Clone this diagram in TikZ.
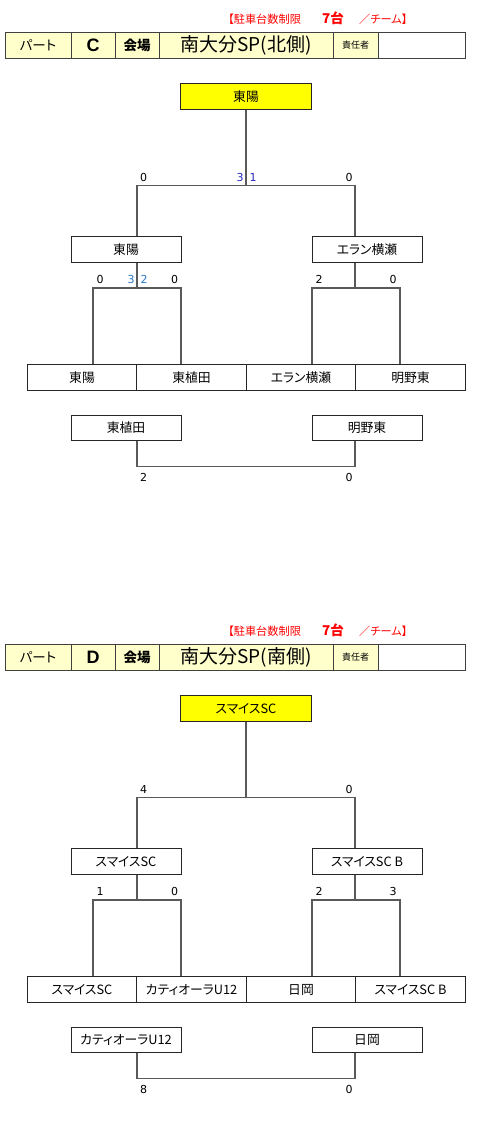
\documentclass[tikz,border=0pt]{standalone}
\usepackage{fontspec}
\setmainfont{Noto Sans CJK JP}
\newfontfamily\jp[RawFeature=+palt]{Noto Sans CJK JP}
\newfontfamily\scf{DejaVu Sans}
\newfontfamily\lat{Liberation Sans}
\definecolor{hdrfill}{HTML}{FFFFCC}
\definecolor{champfill}{HTML}{FFFF00}
\definecolor{blueA}{HTML}{2A2AC8}
\definecolor{blueB}{HTML}{2A7AC8}
\definecolor{redtxt}{HTML}{FF0000}
\tikzset{
  box/.style={draw=black!85, line width=0.9pt, minimum width=110pt, minimum height=25.5pt, inner sep=0pt, fill=white, font=\jp\fontsize{12.8}{14}\selectfont},
  champbox/.style={box, fill=champfill, minimum width=131pt},
  hdr/.style={draw=black!75, line width=1pt, fill=hdrfill, minimum height=25.5pt, inner sep=0pt},
  link/.style={draw=black!65, line width=1.2pt},
  score/.style={inner sep=0pt, font=\scf\fontsize{11}{13}\selectfont},
  redlbl/.style={inner sep=0pt, anchor=west, text=redtxt},
}
\begin{document}
\begin{tikzpicture}[x=1pt,y=-1pt]
\useasboundingbox[fill=white] (0,0) rectangle (477,1144);

% ================= Section C =================
\node[redlbl, font=\jp\fontsize{11.2}{12}\selectfont] (cr1) at (228,19) {【駐車台数制限};
\node[redlbl, font=\jp\bfseries\fontsize{13.5}{14}\selectfont] (cr2) at (322,18) {7台};
\node[redlbl, font=\jp\fontsize{11.2}{12}\selectfont] (cr3) at (359,19) {／チーム】};

\node[hdr, minimum width=66pt, font=\jp\fontsize{13.5}{14}\selectfont] (ch1) at (38,45.5) {パート};
\node[hdr, minimum width=44pt, font=\lat\bfseries\fontsize{18}{18}\selectfont] (ch2) at (93,45.5) {C};
\node[hdr, minimum width=44pt, font=\jp\bfseries\fontsize{13.5}{14}\selectfont] (ch3) at (137,45.5) {会場};
\node[hdr, minimum width=174pt, font=\jp\fontsize{19}{20}\selectfont] (ch4) at (246,45.5) {南大分SP(北側)};
\node[hdr, minimum width=45pt, font=\jp\fontsize{9}{10}\selectfont] (ch5) at (355.5,45.5) {責任者};
\node[hdr, minimum width=87pt, fill=white] (ch6) at (421.5,45.5) {};

\node[champbox] (cw) at (246,96.5) {東陽};
\node[box] (cs1) at (126,249.5) {東陽};
\node[box] (cs2) at (367,249.5) {エラン横瀬};
\node[box] (cq1) at (82,377.5) {東陽};
\node[box] (cq2) at (191.5,377.5) {東植田};
\node[box] (cq3) at (301,377.5) {エラン横瀬};
\node[box] (cq4) at (410.5,377.5) {明野東};
\node[box] (cp1) at (126,428) {東植田};
\node[box] (cp2) at (367,428) {明野東};

\coordinate (ctA) at (137,185.5);
\coordinate (ctM) at (246,185.5);
\coordinate (ctB) at (355,185.5);
\coordinate (clA) at (93,288);
\coordinate (clM) at (137,288);
\coordinate (clB) at (181,288);
\coordinate (crA) at (312,288);
\coordinate (crM) at (355,288);
\coordinate (crB) at (400,288);
\coordinate (cpA) at (137,466.5);
\coordinate (cpB) at (355,466.5);

\draw[link] (cw.south -| ctM) -- (ctM);
\draw[link] (cs1.north -| ctA) -- (ctA) -- (ctB) -- (cs2.north -| ctB);
\draw[link] (cs1.south -| clM) -- (clM);
\draw[link] (cq1.north -| clA) -- (clA) -- (clB) -- (cq2.north -| clB);
\draw[link] (cs2.south -| crM) -- (crM);
\draw[link] (cq3.north -| crA) -- (crA) -- (crB) -- (cq4.north -| crB);
\draw[link] (cp1.south -| cpA) -- (cpA) -- (cpB) -- (cp2.south -| cpB);

\node[score] (cn1) at (143.5,177.5) {0};
\node[score, text=blueA] (cn2) at (240,177.5) {3};
\node[score, text=blueA] (cn3) at (253,177.5) {1};
\node[score] (cn4) at (349,177.5) {0};
\node[score] (cn5) at (100,279.5) {0};
\node[score, text=blueB] (cn6) at (131,279.5) {3};
\node[score, text=blueB] (cn7) at (144,279.5) {2};
\node[score] (cn8) at (174.5,279.5) {0};
\node[score] (cn9) at (319,279.5) {2};
\node[score] (cn10) at (393,279.5) {0};
\node[score] (cn11) at (143.5,477) {2};
\node[score] (cn12) at (349,477) {0};

% ================= Section D =================
\begin{scope}[yshift=-612pt]
\node[redlbl, font=\jp\fontsize{11.2}{12}\selectfont] (dr1) at (228,19) {【駐車台数制限};
\node[redlbl, font=\jp\bfseries\fontsize{13.5}{14}\selectfont] (dr2) at (322,18) {7台};
\node[redlbl, font=\jp\fontsize{11.2}{12}\selectfont] (dr3) at (359,19) {／チーム】};

\node[hdr, minimum width=66pt, font=\jp\fontsize{13.5}{14}\selectfont] (dh1) at (38,45.5) {パート};
\node[hdr, minimum width=44pt, font=\lat\bfseries\fontsize{18}{18}\selectfont] (dh2) at (93,45.5) {D};
\node[hdr, minimum width=44pt, font=\jp\bfseries\fontsize{13.5}{14}\selectfont] (dh3) at (137,45.5) {会場};
\node[hdr, minimum width=174pt, font=\jp\fontsize{19}{20}\selectfont] (dh4) at (246,45.5) {南大分SP(南側)};
\node[hdr, minimum width=45pt, font=\jp\fontsize{9}{10}\selectfont] (dh5) at (355.5,45.5) {責任者};
\node[hdr, minimum width=87pt, fill=white] (dh6) at (421.5,45.5) {};

\node[champbox] (dw) at (246,96.5) {スマイスSC};
\node[box] (ds1) at (126,249.5) {スマイスSC};
\node[box] (ds2) at (367,249.5) {スマイスSC B};
\node[box] (dq1) at (82,377.5) {スマイスSC};
\node[box] (dq2) at (191.5,377.5) {カティオーラU12};
\node[box] (dq3) at (301,377.5) {日岡};
\node[box] (dq4) at (410.5,377.5) {スマイスSC B};
\node[box] (dp1) at (126,428) {カティオーラU12};
\node[box] (dp2) at (367,428) {日岡};

\coordinate (dtA) at (137,185.5);
\coordinate (dtM) at (246,185.5);
\coordinate (dtB) at (355,185.5);
\coordinate (dlA) at (93,288);
\coordinate (dlM) at (137,288);
\coordinate (dlB) at (181,288);
\coordinate (drA) at (312,288);
\coordinate (drM) at (355,288);
\coordinate (drB) at (400,288);
\coordinate (dpA) at (137,466.5);
\coordinate (dpB) at (355,466.5);

\draw[link] (dw.south -| dtM) -- (dtM);
\draw[link] (ds1.north -| dtA) -- (dtA) -- (dtB) -- (ds2.north -| dtB);
\draw[link] (ds1.south -| dlM) -- (dlM);
\draw[link] (dq1.north -| dlA) -- (dlA) -- (dlB) -- (dq2.north -| dlB);
\draw[link] (ds2.south -| drM) -- (drM);
\draw[link] (dq3.north -| drA) -- (drA) -- (drB) -- (dq4.north -| drB);
\draw[link] (dp1.south -| dpA) -- (dpA) -- (dpB) -- (dp2.south -| dpB);

\node[score] (dn1) at (143.5,177.5) {4};
\node[score] (dn4) at (349,177.5) {0};
\node[score] (dn5) at (100,279.5) {1};
\node[score] (dn8) at (174.5,279.5) {0};
\node[score] (dn9) at (319,279.5) {2};
\node[score] (dn10) at (393,279.5) {3};
\node[score] (dn11) at (143.5,477) {8};
\node[score] (dn12) at (349,477) {0};
\end{scope}
\end{tikzpicture}
\end{document}
